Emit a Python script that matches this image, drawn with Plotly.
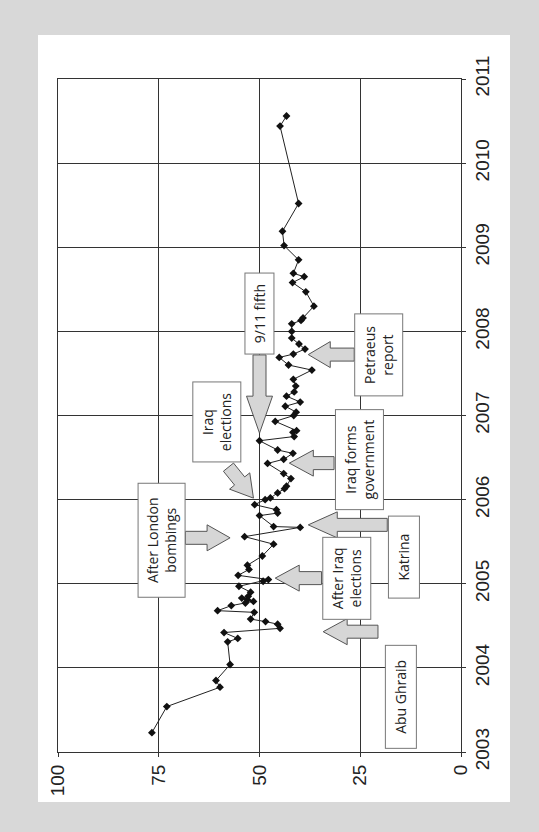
import math
import plotly.graph_objects as go

# ---------------- data ----------------
years = [2003.23, 2003.54, 2003.77, 2003.85, 2004.04, 2004.31, 2004.35, 2004.42,
         2004.47, 2004.52, 2004.55, 2004.58, 2004.66, 2004.68, 2004.74, 2004.77,
         2004.79, 2004.81, 2004.83, 2004.85, 2004.90, 2004.97, 2005.03, 2005.05,
         2005.10, 2005.17, 2005.22, 2005.33, 2005.47, 2005.56, 2005.67, 2005.68,
         2005.81, 2005.84, 2005.88, 2005.94, 2006.00, 2006.02, 2006.08, 2006.13,
         2006.16, 2006.25, 2006.31, 2006.43, 2006.48, 2006.55, 2006.59, 2006.70,
         2006.75, 2006.80, 2006.82, 2006.93, 2007.00, 2007.04, 2007.11, 2007.16,
         2007.23, 2007.28, 2007.35, 2007.43, 2007.54, 2007.60, 2007.69, 2007.73,
         2007.79, 2007.85, 2007.92, 2008.00, 2008.09, 2008.13, 2008.16, 2008.30,
         2008.47, 2008.58, 2008.65, 2008.69, 2008.85, 2009.02, 2009.19, 2009.52,
         2010.44, 2010.56]
values = [76.7, 73.0, 59.8, 60.8, 57.3, 57.9, 55.4, 58.8,
          44.9, 45.5, 48.5, 52.2, 51.3, 60.4, 57.0, 53.5,
          51.5, 53.0, 54.4, 52.8, 52.2, 55.1, 49.1, 47.8,
          55.3, 52.6, 53.0, 49.3, 46.5, 53.7, 39.9, 46.5,
          50.0, 45.5, 45.8, 51.2, 48.6, 47.3, 45.5, 43.8,
          43.3, 42.2, 44.0, 48.0, 44.0, 41.7, 45.5, 50.0,
          41.4, 41.7, 40.8, 46.1, 41.5, 40.9, 43.6, 39.9,
          43.3, 41.4, 41.0, 41.6, 37.0, 42.8, 45.1, 41.6,
          38.7, 40.2, 42.0, 42.0, 42.0, 39.7, 39.2, 36.5,
          38.5, 41.8, 38.9, 41.6, 40.3, 43.9, 44.3, 40.3,
          44.9, 43.3]
value_ticks = [0, 25, 50, 75, 100]
year_ticks = [2003, 2004, 2005, 2006, 2007, 2008, 2009, 2010, 2011]

# callouts: text, box centre (value, year), arrow tail (value, year), arrow tip (value, year)
callout_texts = ["After London<br>bombings", "Iraq<br>elections", "9/11 fifth",
                 "Petraeus<br>report", "Iraq forms<br>government", "Katrina",
                 "After Iraq<br>elections", "Abu Ghraib"]
callout_box_value = [74.4, 60.7, 50.0, 20.4, 25.3, 14.2, 28.4, 14.8]
callout_box_year = [2005.513, 2006.922, 2008.206, 2007.724, 2006.470, 2005.320, 2005.065, 2003.660]
arrow_tail_value = [68.4, 57.7, 50.0, 26.5, 31.5, 18.3, 34.6, 20.6]
arrow_tail_year = [2005.546, 2006.386, 2007.720, 2007.724, 2006.434, 2005.700, 2005.067, 2004.430]
arrow_tip_value = [57.3, 51.5, 50.0, 37.9, 42.6, 37.9, 46.1, 34.2]
arrow_tip_year = [2005.546, 2006.018, 2006.790, 2007.724, 2006.434, 2005.700, 2005.067, 2004.430]

# ---------------- layout geometry ----------------
W, H = 539, 832
ML, MR, MT, MB = 58, 78, 79, 80
PW = W - ML - MR
PH = H - MT - MB

box_w = [48, 49, 30, 49, 49, 32, 49, 32]      # screen width (px)
box_h = [115, 81, 82, 83, 101, 83, 83, 104]   # screen height (px)
head_lens = [23, 22, 37, 22, 24, 29, 24, 24]


def to_px(v, y):
    return ML + (100 - v) / 100 * PW, MT + (2011 - y) / 8 * PH


def to_data(px, py):
    return 100 - (px - ML) / PW * 100, 2011 - (py - MT) / PH * 8


def block_arrow(tail, tip, shaft=6.5, head=13, head_len=23):
    tx, ty = to_px(*tail)
    hx, hy = to_px(*tip)
    L = math.hypot(hx - tx, hy - ty)
    ux, uy = (hx - tx) / L, (hy - ty) / L
    nx, ny = -uy, ux
    cx, cy = hx - head_len * ux, hy - head_len * uy
    pts = [(tx + shaft * nx, ty + shaft * ny), (cx + shaft * nx, cy + shaft * ny),
           (cx + head * nx, cy + head * ny), (hx, hy),
           (cx - head * nx, cy - head * ny), (cx - shaft * nx, cy - shaft * ny),
           (tx - shaft * nx, ty - shaft * ny)]
    d = [to_data(px, py) for px, py in pts]
    return "M " + " L ".join(f"{a:.4f},{b:.5f}" for a, b in d) + " Z"


fig = go.Figure()
fig.add_trace(go.Scatter(
    x=values, y=years, mode="lines+markers",
    line=dict(color="#222222", width=1),
    marker=dict(symbol="diamond", size=6, color="#111111"),
    showlegend=False, hoverinfo="skip"))

shapes = [dict(type="rect", xref="paper", yref="paper",
               x0=(38 - ML) / PW, x1=(510 - ML) / PW,
               y0=(H - 802 - MB) / PH, y1=(H - 35 - MB) / PH,
               fillcolor="white", line=dict(width=0), layer="below")]
for i in range(len(callout_texts)):
    shapes.append(dict(type="path", xref="x", yref="y",
                       path=block_arrow((arrow_tail_value[i], arrow_tail_year[i]),
                                        (arrow_tip_value[i], arrow_tip_year[i]),
                                        head_len=head_lens[i]),
                       fillcolor="#d6d6d6", line=dict(color="#555555", width=1),
                       layer="above"))

annotations = []
for i, t in enumerate(callout_texts):
    annotations.append(dict(
        x=callout_box_value[i], y=callout_box_year[i], xref="x", yref="y",
        text=t, showarrow=False, textangle=-90,
        width=box_h[i] - 2, height=box_w[i] - 2,
        font=dict(family="Open Sans", size=14, color="#222222"),
        bgcolor="white", bordercolor="#777777", borderwidth=1, borderpad=0,
        xanchor="center", yanchor="middle"))

fig.update_layout(
    width=W, height=H,
    margin=dict(l=ML, r=MR, t=MT, b=MB),
    paper_bgcolor="#d8d8d8", plot_bgcolor="white",
    shapes=shapes, annotations=annotations,
    font=dict(family="Liberation Sans, Arial", size=19, color="#222222"),
    xaxis=dict(range=[100, 0], tickvals=value_ticks, ticktext=[str(v) for v in value_ticks],
               tickangle=-90, showgrid=True, gridcolor="#333333", gridwidth=1,
               showline=True, linecolor="#333333", linewidth=1, mirror=True,
               ticks="outside", ticklen=4, tickcolor="#333333", zeroline=False,
               fixedrange=True),
    yaxis=dict(range=[2003, 2011], tickvals=year_ticks, ticktext=[str(y) for y in year_ticks],
               side="right", tickangle=-90, showgrid=True, gridcolor="#333333", gridwidth=1,
               showline=True, linecolor="#333333", linewidth=1, mirror=True,
               ticks="outside", ticklen=4, tickcolor="#333333", zeroline=False,
               fixedrange=True),
)

fig.write_html("out.html", config={"displayModeBar": False},
               post_script="document.body.style.margin='0';document.body.style.padding='0';")
